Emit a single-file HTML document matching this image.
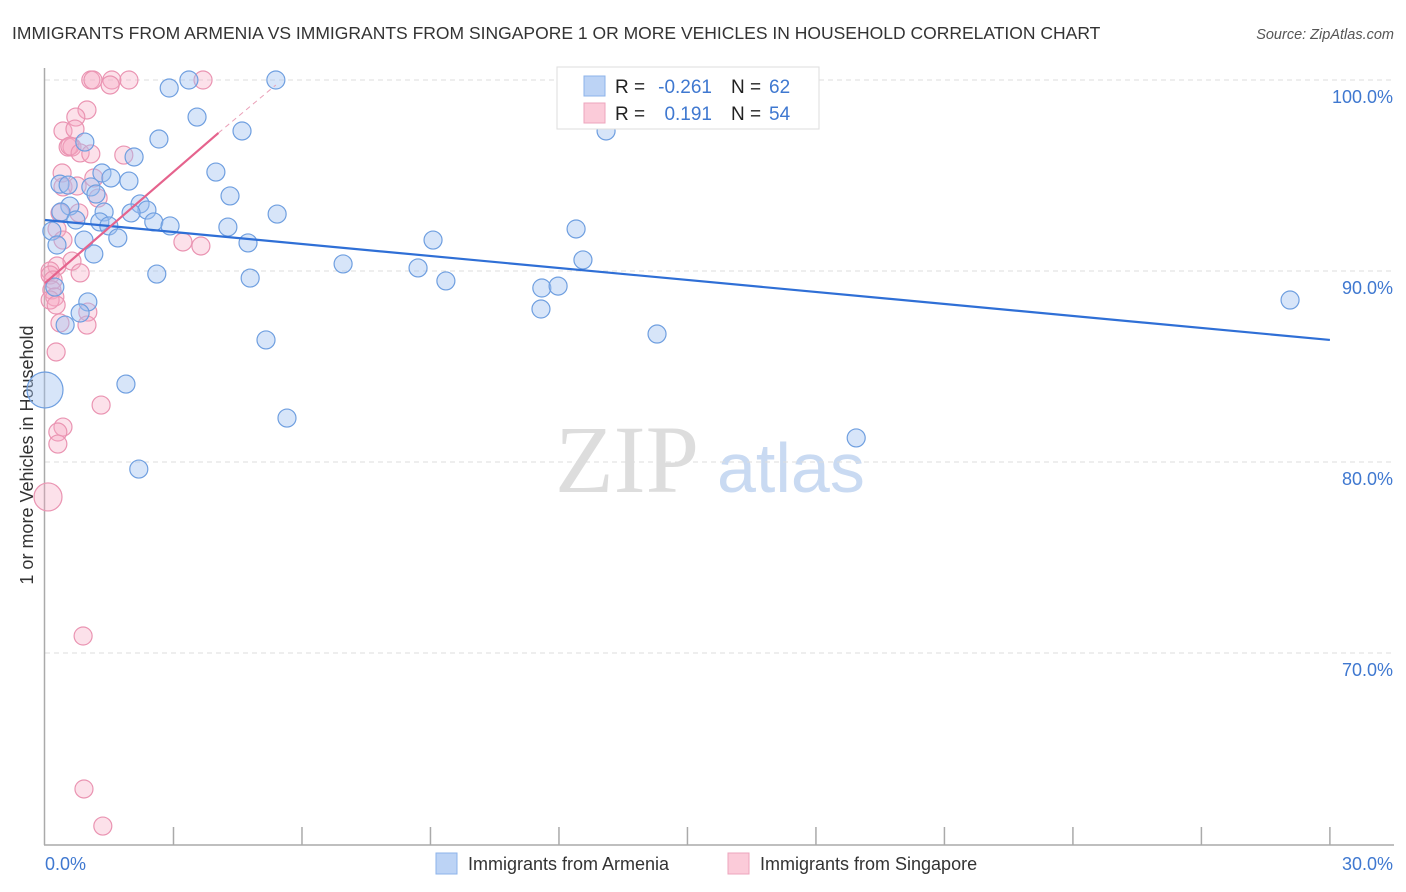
<!DOCTYPE html>
<html><head><meta charset="utf-8">
<style>
body{margin:0;background:#fff;width:1406px;height:892px;overflow:hidden;font-family:"Liberation Sans",sans-serif}
svg{display:block}
</style></head>
<body>
<svg id="chart" width="1406" height="892">
<text x="12" y="39" font-size="17.5" fill="#333">IMMIGRANTS FROM ARMENIA VS IMMIGRANTS FROM SINGAPORE 1 OR MORE VEHICLES IN HOUSEHOLD CORRELATION CHART</text>
<text x="1394" y="39" font-size="14.5" fill="#555" font-style="italic" text-anchor="end">Source: ZipAtlas.com</text>
<text transform="translate(33,455) rotate(-90)" font-size="18" fill="#333" text-anchor="middle">1 or more Vehicles in Household</text>
<text x="555" y="492" font-size="96" fill="#ddd" font-family="Liberation Serif,serif">ZIP</text>
<text x="717" y="492" font-size="70" fill="#c9daf2">atlas</text>
<g id="grid"></g>
<g id="axes"></g>
<g id="points"></g>
<g id="trends"></g>
<g>
<rect x="557" y="67" width="262" height="62" fill="#fff" stroke="#ddd"/>
<rect x="584" y="76" width="21" height="20" fill="#bcd3f5" stroke="#8db3ea"/>
<rect x="584" y="103" width="21" height="20" fill="#fbcbd9" stroke="#eea5bd"/>
<text x="615" y="93" font-size="19" fill="#222">R = </text><text x="712" y="93" font-size="19" fill="#3f78d0" text-anchor="end">-0.261</text>
<text x="731" y="93" font-size="19" fill="#222">N = </text><text x="769" y="93" font-size="19" fill="#3f78d0">62</text>
<text x="615" y="120" font-size="19" fill="#222">R = </text><text x="712" y="120" font-size="19" fill="#3f78d0" text-anchor="end">0.191</text>
<text x="731" y="120" font-size="19" fill="#222">N = </text><text x="769" y="120" font-size="19" fill="#3f78d0">54</text>
</g>
<g>
<rect x="436" y="853" width="21" height="21" fill="#bcd3f5" stroke="#8db3ea"/>
<text x="468" y="870" font-size="18" fill="#333">Immigrants from Armenia</text>
<rect x="728" y="853" width="21" height="21" fill="#fbcbd9" stroke="#eea5bd"/>
<text x="760" y="870" font-size="18" fill="#333">Immigrants from Singapore</text>
</g>
</svg>
<script>
const yTicks=[100,90,80,70];
const yTickLabels=["100.0%","90.0%","80.0%","70.0%"];
const xLabels=["0.0%","30.0%"];
const armeniaX=[5.39,3.36,2.90,3.55,4.60,13.10,2.66,0.93,2.08,3.99,1.33,0.35,1.54,1.96,0.54,1.07,1.19,4.32,2.22,0.58,2.38,0.37,5.42,2.01,1.38,0.72,1.28,2.54,2.92,1.49,4.27,12.40,0.16,1.70,0.91,9.06,4.74,0.28,1.14,12.56,6.96,8.71,2.61,4.79,9.36,11.60,11.98,0.23,1.00,29.07,11.58,0.82,0.47,14.29,5.16,0,1.89,5.65,18.94,2.19];
const armeniaY=[100,100,99.58,98.06,97.33,97.33,96.91,96.75,95.97,95.18,95.13,94.55,94.87,94.71,94.50,94.40,94.03,93.93,93.51,93.40,93.19,93.09,92.98,93.04,93.09,92.67,92.57,92.57,92.36,92.36,92.30,92.20,92.09,91.73,91.62,91.62,91.47,91.36,90.89,90.58,90.37,90.16,89.84,89.63,89.48,89.11,89.21,89.16,88.38,88.48,88.01,87.80,87.17,86.70,86.39,83.77,84.08,82.30,81.26,79.63];
const armeniaSize=[9,9,9,9,9,9,9,9,9,9,9,9,9,9,9,9,9,9,9,9,9,9,9,9,9,9,9,9,9,9,9,9,9,9,9,9,9,9,9,9,9,9,9,9,9,9,9,9,9,9,9,9,9,9,9,18,9,9,9,9];
const singX=[1.07,1.12,1.56,1.96,3.69,1.52,0.98,0.72,0.42,0.70,0.54,0.63,0.58,0.82,1.07,1.84,0.40,1.14,0.42,0.75,1.24,0.79,0.35,0.28,0.42,3.22,3.64,0.63,0.28,0.12,0.12,0.82,0.19,0.16,0.23,0.12,0.26,1.00,0.35,0.98,0.26,1.31,0.42,0.30,0.30,0.07,0.89,0.91,1.35];
const singY=[100,100,100,100,100,99.74,98.43,98.06,97.33,97.43,96.49,96.49,96.54,96.18,96.13,96.07,95.13,94.87,94.40,94.45,93.82,93.04,93.04,92.20,91.62,91.52,91.31,90.52,90.26,90.0,89.79,89.90,89.53,89.01,88.64,88.48,88.22,87.85,87.28,87.17,85.76,82.98,81.83,81.57,80.94,78.17,70.89,62.88,60.94];
const armeniaTrend=[[0,92.67],[30,86.39]];
const singTrend=[[0,89.37],[4.05,97.23]];
const singTrendExt=[[4.05,97.23],[5.39,99.74]];

const NS="http://www.w3.org/2000/svg";
const X=v=>45+v*42.83;
const Y=v=>80+(100-v)*19.1;
function mk(tag,attrs,parent){const e=document.createElementNS(NS,tag);for(const k in attrs)e.setAttribute(k,attrs[k]);parent.appendChild(e);return e;}
const grid=document.getElementById('grid'),axes=document.getElementById('axes'),pts=document.getElementById('points'),tr=document.getElementById('trends');
yTicks.forEach((t,i)=>{
 const l=mk('line',{x1:45,x2:1394,y1:Y(t),y2:Y(t),stroke:'#ddd','stroke-dasharray':'5,4'},grid);
 
 
 const tx=mk('text',{x:1393,y:Y(t)+23,'font-size':18,fill:'#3f78d0','text-anchor':'end'},grid);
 tx.textContent=yTickLabels[i];
 
 
});
const ya=mk('line',{x1:44.5,x2:44.5,y1:68,y2:845,stroke:'#aaa','stroke-width':1.5},axes);


const xa=mk('line',{x1:44,x2:1394,y1:845,y2:845,stroke:'#aaa','stroke-width':1.5},axes);


for(let i=1;i<=10;i++){
 const t=mk('line',{x1:X(i*3),x2:X(i*3),y1:827,y2:845,stroke:'#aaa','stroke-width':1.5},axes);
 
 
}
const xl0=mk('text',{x:45,y:870,'font-size':18,fill:'#3f78d0'},axes);xl0.textContent=xLabels[0];


const xl1=mk('text',{x:1393,y:870,'font-size':18,fill:'#3f78d0','text-anchor':'end'},axes);xl1.textContent=xLabels[1];


singX.forEach((v,i)=>{
 const r=i===45?14:9;
 const c=mk('circle',{cx:X(v),cy:Y(singY[i]),r:r,fill:'rgba(246,170,196,0.35)',stroke:'#ea94b2','stroke-width':1.2},pts);
 
 
});
armeniaX.forEach((v,i)=>{
 const c=mk('circle',{cx:X(v),cy:Y(armeniaY[i]),r:armeniaSize[i],fill:'rgba(160,192,240,0.42)',stroke:'#6f9fe0','stroke-width':1.2},pts);
 
 
});
const l1=mk('line',{x1:X(armeniaTrend[0][0]),y1:Y(armeniaTrend[0][1]),x2:X(armeniaTrend[1][0]),y2:Y(armeniaTrend[1][1]),stroke:'#2f6fd6','stroke-width':2.2},tr);


const l2=mk('line',{x1:X(singTrend[0][0]),y1:Y(singTrend[0][1]),x2:X(singTrend[1][0]),y2:Y(singTrend[1][1]),stroke:'#e5638d','stroke-width':2.2},tr);


const l3=mk('line',{x1:X(singTrendExt[0][0]),y1:Y(singTrendExt[0][1]),x2:X(singTrendExt[1][0]),y2:Y(singTrendExt[1][1]),stroke:'#eaa0b8','stroke-width':1,'stroke-dasharray':'5,4'},tr);


</script>
</body></html>
